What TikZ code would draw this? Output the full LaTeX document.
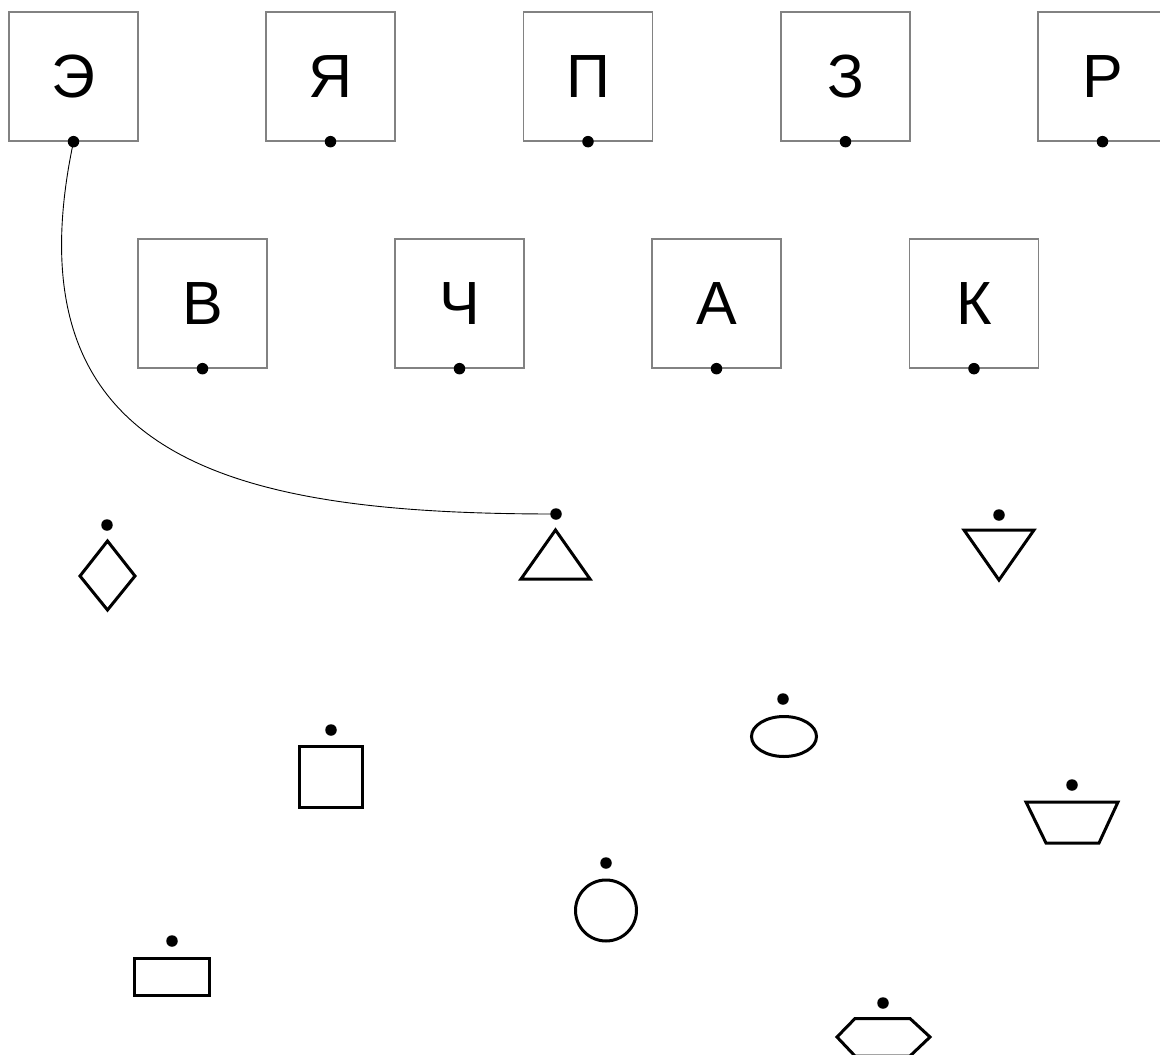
\documentclass[tikz,border=0pt]{standalone}
\usepackage{fontspec}
\setmainfont{Liberation Sans}
\tikzset{
  letterbox/.style={draw={rgb,255:red,130;green,130;blue,130}, line width=1.3pt, minimum width=129pt, minimum height=129pt, inner sep=0pt, font=\fontsize{61}{72}\selectfont},
  pin/.style={circle, fill=black, inner sep=0pt, minimum size=11.5pt},
  glyph/.style={draw=black, line width=3pt, line join=miter},
  link/.style={draw=black, line width=0.9pt}
}
\begin{document}
\begin{tikzpicture}[x=1pt,y=-1pt]
\useasboundingbox (0,0) rectangle (1160,1055);
\clip (0,0) rectangle (1160,1055);
% top row
\node[letterbox] (b1) at (73.5,76.5) {Э};
\node[letterbox] (b2) at (330.5,76.5) {Я};
\node[letterbox] (b3) at (588,76.5) {П};
\node[letterbox] (b4) at (845.5,76.5) {З};
\node[letterbox] (b5) at (1102.5,76.5) {Р};
% second row
\node[letterbox] (c1) at (202.5,303.5) {В};
\node[letterbox] (c2) at (459.5,303.5) {Ч};
\node[letterbox] (c3) at (716.5,303.5) {А};
\node[letterbox] (c4) at (974,303.5) {К};
% pins on boxes
\foreach \n in {b1,b2,b3,b4,b5,c1,c2,c3,c4}{
  \node[pin] (p\n) at (\n.south) {};
}
% shape pins
\node[pin] (pdia) at (107,525) {};
\node[pin] (ptru) at (556,514) {};
\node[pin] (ptrd) at (999,515) {};
\node[pin] (psq) at (331,730) {};
\node[pin] (pell) at (783,699) {};
\node[pin] (ptrap) at (1072,785) {};
\node[pin] (pcir) at (606,863) {};
\node[pin] (prect) at (172,941) {};
\node[pin] (phex) at (883,1003) {};
% shapes
\draw[glyph] (107.5,541) -- (135,576) -- (107.5,610) -- (80,576) -- cycle;
\draw[glyph] (555.5,530) -- (590,579) -- (521,579) -- cycle;
\draw[glyph] (964,530) -- (1034,530) -- (999,580) -- cycle;
\draw[glyph] (299,746) rectangle (362,807);
\draw[glyph] (784,736.5) ellipse [x radius=32.5, y radius=20];
\draw[glyph] (1026,802) -- (1118,802) -- (1099,843) -- (1046,843) -- cycle;
\draw[glyph] (606,910.5) circle [radius=30.5];
\draw[glyph] (134,958) rectangle (209,995);
\draw[glyph] (855,1018.5) -- (910,1018.5) -- (930,1037) -- (910,1056) -- (855,1056) -- (837,1037) -- cycle;
% connector
\draw[link] (pb1.center) .. controls (5,465) and (240,514) .. (ptru.center);
\end{tikzpicture}
\end{document}
